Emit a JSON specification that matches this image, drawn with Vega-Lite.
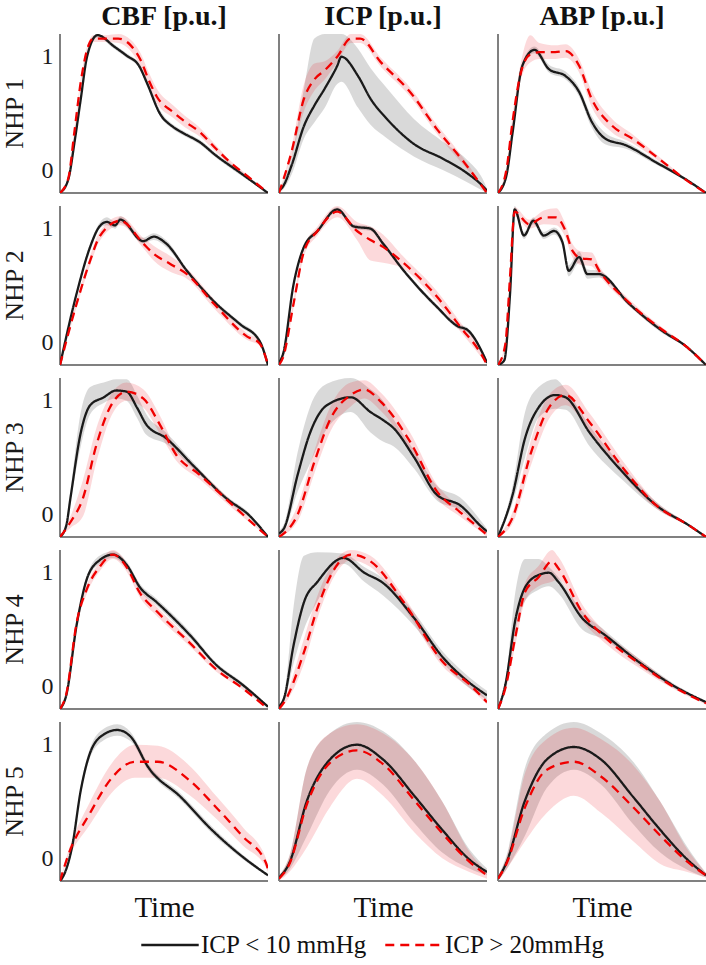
{
"$schema": "https://vega.github.io/schema/vega-lite/v6.json",
"background": "white",
"padding": {"left": 2, "top": 3, "right": 0, "bottom": 0},
"data": {"values": [
{"r":1,"c":"CBF","g":"a","t":0,"m":-0.2,"lo":-0.2,"hi":-0.2},
{"r":1,"c":"CBF","g":"a","t":0.04,"m":-0.08,"lo":-0.1,"hi":-0.06},
{"r":1,"c":"CBF","g":"a","t":0.07,"m":0.25,"lo":0.22,"hi":0.28},
{"r":1,"c":"CBF","g":"a","t":0.1,"m":0.63,"lo":0.6,"hi":0.66},
{"r":1,"c":"CBF","g":"a","t":0.13,"m":1.0,"lo":0.98,"hi":1.02},
{"r":1,"c":"CBF","g":"a","t":0.18,"m":1.19,"lo":1.17,"hi":1.2},
{"r":1,"c":"CBF","g":"a","t":0.26,"m":1.09,"lo":1.07,"hi":1.11},
{"r":1,"c":"CBF","g":"a","t":0.32,"m":1.01,"lo":0.99,"hi":1.03},
{"r":1,"c":"CBF","g":"a","t":0.38,"m":0.92,"lo":0.9,"hi":0.94},
{"r":1,"c":"CBF","g":"a","t":0.42,"m":0.76,"lo":0.74,"hi":0.79},
{"r":1,"c":"CBF","g":"a","t":0.48,"m":0.5,"lo":0.48,"hi":0.53},
{"r":1,"c":"CBF","g":"a","t":0.545,"m":0.38,"lo":0.36,"hi":0.4},
{"r":1,"c":"CBF","g":"a","t":0.6,"m":0.32,"lo":0.3,"hi":0.34},
{"r":1,"c":"CBF","g":"a","t":0.67,"m":0.25,"lo":0.23,"hi":0.27},
{"r":1,"c":"CBF","g":"a","t":0.75,"m":0.13,"lo":0.11,"hi":0.15},
{"r":1,"c":"CBF","g":"a","t":0.865,"m":-0.02,"lo":-0.04,"hi":0},
{"r":1,"c":"CBF","g":"a","t":1,"m":-0.2,"lo":-0.2,"hi":-0.2},
{"r":1,"c":"CBF","g":"b","t":0,"m":-0.2,"lo":-0.2,"hi":-0.2},
{"r":1,"c":"CBF","g":"b","t":0.04,"m":-0.07,"lo":-0.09,"hi":-0.05},
{"r":1,"c":"CBF","g":"b","t":0.07,"m":0.35,"lo":0.32,"hi":0.38},
{"r":1,"c":"CBF","g":"b","t":0.1,"m":0.78,"lo":0.75,"hi":0.81},
{"r":1,"c":"CBF","g":"b","t":0.13,"m":1.06,"lo":1.03,"hi":1.09},
{"r":1,"c":"CBF","g":"b","t":0.16,"m":1.16,"lo":1.13,"hi":1.19},
{"r":1,"c":"CBF","g":"b","t":0.22,"m":1.16,"lo":1.13,"hi":1.19},
{"r":1,"c":"CBF","g":"b","t":0.28,"m":1.16,"lo":1.12,"hi":1.2},
{"r":1,"c":"CBF","g":"b","t":0.34,"m":1.1,"lo":1.05,"hi":1.15},
{"r":1,"c":"CBF","g":"b","t":0.385,"m":0.98,"lo":0.92,"hi":1.04},
{"r":1,"c":"CBF","g":"b","t":0.43,"m":0.78,"lo":0.72,"hi":0.85},
{"r":1,"c":"CBF","g":"b","t":0.465,"m":0.65,"lo":0.59,"hi":0.72},
{"r":1,"c":"CBF","g":"b","t":0.545,"m":0.51,"lo":0.46,"hi":0.57},
{"r":1,"c":"CBF","g":"b","t":0.6,"m":0.43,"lo":0.38,"hi":0.48},
{"r":1,"c":"CBF","g":"b","t":0.67,"m":0.34,"lo":0.3,"hi":0.38},
{"r":1,"c":"CBF","g":"b","t":0.75,"m":0.19,"lo":0.16,"hi":0.22},
{"r":1,"c":"CBF","g":"b","t":0.8,"m":0.1,"lo":0.08,"hi":0.12},
{"r":1,"c":"CBF","g":"b","t":0.9,"m":-0.05,"lo":-0.06,"hi":-0.04},
{"r":1,"c":"CBF","g":"b","t":1,"m":-0.2,"lo":-0.2,"hi":-0.2},
{"r":1,"c":"ICP","g":"a","t":0,"m":-0.18,"lo":-0.2,"hi":-0.16},
{"r":1,"c":"ICP","g":"a","t":0.02,"m":-0.14,"lo":-0.17,"hi":-0.1},
{"r":1,"c":"ICP","g":"a","t":0.06,"m":0.04,"lo":-0.04,"hi":0.12},
{"r":1,"c":"ICP","g":"a","t":0.12,"m":0.39,"lo":0.28,"hi":0.72},
{"r":1,"c":"ICP","g":"a","t":0.17,"m":0.57,"lo":0.42,"hi":1.16},
{"r":1,"c":"ICP","g":"a","t":0.22,"m":0.72,"lo":0.55,"hi":1.2},
{"r":1,"c":"ICP","g":"a","t":0.28,"m":0.92,"lo":0.76,"hi":1.2},
{"r":1,"c":"ICP","g":"a","t":0.3,"m":1.0,"lo":0.78,"hi":1.2},
{"r":1,"c":"ICP","g":"a","t":0.38,"m":0.83,"lo":0.55,"hi":1.07},
{"r":1,"c":"ICP","g":"a","t":0.44,"m":0.63,"lo":0.4,"hi":0.9},
{"r":1,"c":"ICP","g":"a","t":0.52,"m":0.45,"lo":0.28,"hi":0.72},
{"r":1,"c":"ICP","g":"a","t":0.65,"m":0.23,"lo":0.12,"hi":0.45},
{"r":1,"c":"ICP","g":"a","t":0.79,"m":0.1,"lo":0.0,"hi":0.25},
{"r":1,"c":"ICP","g":"a","t":0.9,"m":-0.02,"lo":-0.1,"hi":0.1},
{"r":1,"c":"ICP","g":"a","t":0.98,"m":-0.14,"lo":-0.18,"hi":-0.08},
{"r":1,"c":"ICP","g":"a","t":1,"m":-0.18,"lo":-0.2,"hi":-0.16},
{"r":1,"c":"ICP","g":"b","t":0,"m":-0.2,"lo":-0.2,"hi":-0.2},
{"r":1,"c":"ICP","g":"b","t":0.06,"m":0.16,"lo":0.12,"hi":0.2},
{"r":1,"c":"ICP","g":"b","t":0.12,"m":0.63,"lo":0.52,"hi":0.76},
{"r":1,"c":"ICP","g":"b","t":0.17,"m":0.8,"lo":0.7,"hi":0.94},
{"r":1,"c":"ICP","g":"b","t":0.22,"m":0.88,"lo":0.8,"hi":0.96},
{"r":1,"c":"ICP","g":"b","t":0.28,"m":1.0,"lo":0.95,"hi":1.05},
{"r":1,"c":"ICP","g":"b","t":0.345,"m":1.16,"lo":1.12,"hi":1.2},
{"r":1,"c":"ICP","g":"b","t":0.39,"m":1.16,"lo":1.12,"hi":1.2},
{"r":1,"c":"ICP","g":"b","t":0.49,"m":0.95,"lo":0.91,"hi":0.99},
{"r":1,"c":"ICP","g":"b","t":0.63,"m":0.69,"lo":0.65,"hi":0.73},
{"r":1,"c":"ICP","g":"b","t":0.76,"m":0.36,"lo":0.32,"hi":0.4},
{"r":1,"c":"ICP","g":"b","t":0.89,"m":0.07,"lo":0.04,"hi":0.1},
{"r":1,"c":"ICP","g":"b","t":1,"m":-0.2,"lo":-0.2,"hi":-0.2},
{"r":1,"c":"ABP","g":"a","t":0,"m":-0.2,"lo":-0.2,"hi":-0.2},
{"r":1,"c":"ABP","g":"a","t":0.04,"m":-0.05,"lo":-0.07,"hi":-0.03},
{"r":1,"c":"ABP","g":"a","t":0.07,"m":0.33,"lo":0.3,"hi":0.36},
{"r":1,"c":"ABP","g":"a","t":0.117,"m":0.92,"lo":0.89,"hi":0.95},
{"r":1,"c":"ABP","g":"a","t":0.175,"m":1.06,"lo":1.03,"hi":1.09},
{"r":1,"c":"ABP","g":"a","t":0.245,"m":0.89,"lo":0.86,"hi":0.93},
{"r":1,"c":"ABP","g":"a","t":0.325,"m":0.83,"lo":0.8,"hi":0.87},
{"r":1,"c":"ABP","g":"a","t":0.39,"m":0.69,"lo":0.65,"hi":0.73},
{"r":1,"c":"ABP","g":"a","t":0.45,"m":0.43,"lo":0.38,"hi":0.48},
{"r":1,"c":"ABP","g":"a","t":0.515,"m":0.28,"lo":0.23,"hi":0.33},
{"r":1,"c":"ABP","g":"a","t":0.615,"m":0.22,"lo":0.19,"hi":0.25},
{"r":1,"c":"ABP","g":"a","t":0.76,"m":0.07,"lo":0.05,"hi":0.09},
{"r":1,"c":"ABP","g":"a","t":0.92,"m":-0.1,"lo":-0.11,"hi":-0.09},
{"r":1,"c":"ABP","g":"a","t":1,"m":-0.2,"lo":-0.2,"hi":-0.2},
{"r":1,"c":"ABP","g":"b","t":0,"m":-0.2,"lo":-0.2,"hi":-0.2},
{"r":1,"c":"ABP","g":"b","t":0.04,"m":0.0,"lo":-0.03,"hi":0.03},
{"r":1,"c":"ABP","g":"b","t":0.07,"m":0.43,"lo":0.38,"hi":0.48},
{"r":1,"c":"ABP","g":"b","t":0.11,"m":0.86,"lo":0.8,"hi":0.95},
{"r":1,"c":"ABP","g":"b","t":0.155,"m":1.02,"lo":0.95,"hi":1.19},
{"r":1,"c":"ABP","g":"b","t":0.2,"m":1.04,"lo":0.98,"hi":1.12},
{"r":1,"c":"ABP","g":"b","t":0.275,"m":1.04,"lo":0.98,"hi":1.1},
{"r":1,"c":"ABP","g":"b","t":0.325,"m":1.05,"lo":0.99,"hi":1.11},
{"r":1,"c":"ABP","g":"b","t":0.39,"m":0.92,"lo":0.86,"hi":0.98},
{"r":1,"c":"ABP","g":"b","t":0.45,"m":0.63,"lo":0.56,"hi":0.7},
{"r":1,"c":"ABP","g":"b","t":0.55,"m":0.39,"lo":0.33,"hi":0.45},
{"r":1,"c":"ABP","g":"b","t":0.645,"m":0.28,"lo":0.24,"hi":0.32},
{"r":1,"c":"ABP","g":"b","t":0.775,"m":0.1,"lo":0.08,"hi":0.12},
{"r":1,"c":"ABP","g":"b","t":0.9,"m":-0.08,"lo":-0.09,"hi":-0.07},
{"r":1,"c":"ABP","g":"b","t":1,"m":-0.2,"lo":-0.2,"hi":-0.2},
{"r":2,"c":"CBF","g":"a","t":0,"m":-0.2,"lo":-0.2,"hi":-0.2},
{"r":2,"c":"CBF","g":"a","t":0.08,"m":0.43,"lo":0.41,"hi":0.45},
{"r":2,"c":"CBF","g":"a","t":0.145,"m":0.84,"lo":0.82,"hi":0.87},
{"r":2,"c":"CBF","g":"a","t":0.19,"m":1.02,"lo":1.0,"hi":1.05},
{"r":2,"c":"CBF","g":"a","t":0.225,"m":1.06,"lo":1.03,"hi":1.1},
{"r":2,"c":"CBF","g":"a","t":0.265,"m":1.03,"lo":1.0,"hi":1.06},
{"r":2,"c":"CBF","g":"a","t":0.29,"m":1.08,"lo":1.05,"hi":1.11},
{"r":2,"c":"CBF","g":"a","t":0.4,"m":0.89,"lo":0.87,"hi":0.92},
{"r":2,"c":"CBF","g":"a","t":0.45,"m":0.93,"lo":0.9,"hi":0.96},
{"r":2,"c":"CBF","g":"a","t":0.51,"m":0.87,"lo":0.84,"hi":0.9},
{"r":2,"c":"CBF","g":"a","t":0.61,"m":0.63,"lo":0.61,"hi":0.65},
{"r":2,"c":"CBF","g":"a","t":0.74,"m":0.36,"lo":0.34,"hi":0.38},
{"r":2,"c":"CBF","g":"a","t":0.865,"m":0.16,"lo":0.14,"hi":0.18},
{"r":2,"c":"CBF","g":"a","t":0.96,"m":0.01,"lo":-0.01,"hi":0.03},
{"r":2,"c":"CBF","g":"a","t":1,"m":-0.2,"lo":-0.2,"hi":-0.2},
{"r":2,"c":"CBF","g":"b","t":0,"m":-0.2,"lo":-0.2,"hi":-0.2},
{"r":2,"c":"CBF","g":"b","t":0.08,"m":0.34,"lo":0.31,"hi":0.37},
{"r":2,"c":"CBF","g":"b","t":0.145,"m":0.72,"lo":0.68,"hi":0.76},
{"r":2,"c":"CBF","g":"b","t":0.19,"m":0.93,"lo":0.89,"hi":0.97},
{"r":2,"c":"CBF","g":"b","t":0.29,"m":1.07,"lo":1.03,"hi":1.11},
{"r":2,"c":"CBF","g":"b","t":0.4,"m":0.87,"lo":0.83,"hi":0.92},
{"r":2,"c":"CBF","g":"b","t":0.45,"m":0.78,"lo":0.72,"hi":0.85},
{"r":2,"c":"CBF","g":"b","t":0.53,"m":0.69,"lo":0.62,"hi":0.76},
{"r":2,"c":"CBF","g":"b","t":0.61,"m":0.6,"lo":0.56,"hi":0.65},
{"r":2,"c":"CBF","g":"b","t":0.74,"m":0.34,"lo":0.3,"hi":0.38},
{"r":2,"c":"CBF","g":"b","t":0.9,"m":0.05,"lo":0.02,"hi":0.08},
{"r":2,"c":"CBF","g":"b","t":0.96,"m":-0.01,"lo":-0.03,"hi":0.01},
{"r":2,"c":"CBF","g":"b","t":1,"m":-0.2,"lo":-0.2,"hi":-0.2},
{"r":2,"c":"ICP","g":"a","t":0,"m":-0.18,"lo":-0.2,"hi":-0.16},
{"r":2,"c":"ICP","g":"a","t":0.02,"m":-0.1,"lo":-0.12,"hi":-0.08},
{"r":2,"c":"ICP","g":"a","t":0.07,"m":0.51,"lo":0.49,"hi":0.53},
{"r":2,"c":"ICP","g":"a","t":0.12,"m":0.84,"lo":0.82,"hi":0.86},
{"r":2,"c":"ICP","g":"a","t":0.185,"m":0.98,"lo":0.96,"hi":1.0},
{"r":2,"c":"ICP","g":"a","t":0.28,"m":1.17,"lo":1.15,"hi":1.19},
{"r":2,"c":"ICP","g":"a","t":0.36,"m":1.02,"lo":1.0,"hi":1.04},
{"r":2,"c":"ICP","g":"a","t":0.44,"m":1.0,"lo":0.98,"hi":1.02},
{"r":2,"c":"ICP","g":"a","t":0.5,"m":0.87,"lo":0.85,"hi":0.89},
{"r":2,"c":"ICP","g":"a","t":0.6,"m":0.63,"lo":0.61,"hi":0.65},
{"r":2,"c":"ICP","g":"a","t":0.76,"m":0.31,"lo":0.29,"hi":0.33},
{"r":2,"c":"ICP","g":"a","t":0.86,"m":0.14,"lo":0.12,"hi":0.16},
{"r":2,"c":"ICP","g":"a","t":0.905,"m":0.11,"lo":0.09,"hi":0.13},
{"r":2,"c":"ICP","g":"a","t":0.98,"m":-0.1,"lo":-0.12,"hi":-0.08},
{"r":2,"c":"ICP","g":"a","t":1,"m":-0.18,"lo":-0.2,"hi":-0.16},
{"r":2,"c":"ICP","g":"b","t":0,"m":-0.2,"lo":-0.2,"hi":-0.2},
{"r":2,"c":"ICP","g":"b","t":0.02,"m":-0.13,"lo":-0.15,"hi":-0.11},
{"r":2,"c":"ICP","g":"b","t":0.07,"m":0.34,"lo":0.3,"hi":0.38},
{"r":2,"c":"ICP","g":"b","t":0.12,"m":0.8,"lo":0.76,"hi":0.84},
{"r":2,"c":"ICP","g":"b","t":0.185,"m":0.98,"lo":0.94,"hi":1.02},
{"r":2,"c":"ICP","g":"b","t":0.28,"m":1.15,"lo":1.1,"hi":1.2},
{"r":2,"c":"ICP","g":"b","t":0.375,"m":0.98,"lo":0.9,"hi":1.06},
{"r":2,"c":"ICP","g":"b","t":0.44,"m":0.9,"lo":0.72,"hi":1.02},
{"r":2,"c":"ICP","g":"b","t":0.5,"m":0.84,"lo":0.7,"hi":0.95},
{"r":2,"c":"ICP","g":"b","t":0.585,"m":0.72,"lo":0.66,"hi":0.78},
{"r":2,"c":"ICP","g":"b","t":0.76,"m":0.4,"lo":0.35,"hi":0.45},
{"r":2,"c":"ICP","g":"b","t":0.87,"m":0.14,"lo":0.1,"hi":0.18},
{"r":2,"c":"ICP","g":"b","t":0.98,"m":-0.13,"lo":-0.15,"hi":-0.11},
{"r":2,"c":"ICP","g":"b","t":1,"m":-0.2,"lo":-0.2,"hi":-0.2},
{"r":2,"c":"ABP","g":"a","t":0,"m":-0.2,"lo":-0.2,"hi":-0.2},
{"r":2,"c":"ABP","g":"a","t":0.03,"m":-0.16,"lo":-0.17,"hi":-0.15},
{"r":2,"c":"ABP","g":"a","t":0.058,"m":0.43,"lo":0.4,"hi":0.46},
{"r":2,"c":"ABP","g":"a","t":0.08,"m":1.17,"lo":1.14,"hi":1.2},
{"r":2,"c":"ABP","g":"a","t":0.125,"m":0.94,"lo":0.91,"hi":0.97},
{"r":2,"c":"ABP","g":"a","t":0.17,"m":1.07,"lo":1.04,"hi":1.1},
{"r":2,"c":"ABP","g":"a","t":0.22,"m":0.94,"lo":0.91,"hi":0.97},
{"r":2,"c":"ABP","g":"a","t":0.27,"m":0.98,"lo":0.95,"hi":1.01},
{"r":2,"c":"ABP","g":"a","t":0.31,"m":0.88,"lo":0.84,"hi":0.92},
{"r":2,"c":"ABP","g":"a","t":0.34,"m":0.63,"lo":0.58,"hi":0.68},
{"r":2,"c":"ABP","g":"a","t":0.39,"m":0.75,"lo":0.7,"hi":0.8},
{"r":2,"c":"ABP","g":"a","t":0.43,"m":0.6,"lo":0.56,"hi":0.64},
{"r":2,"c":"ABP","g":"a","t":0.485,"m":0.6,"lo":0.57,"hi":0.63},
{"r":2,"c":"ABP","g":"a","t":0.63,"m":0.34,"lo":0.32,"hi":0.36},
{"r":2,"c":"ABP","g":"a","t":0.79,"m":0.1,"lo":0.08,"hi":0.12},
{"r":2,"c":"ABP","g":"a","t":0.9,"m":-0.03,"lo":-0.04,"hi":-0.02},
{"r":2,"c":"ABP","g":"a","t":1,"m":-0.2,"lo":-0.2,"hi":-0.2},
{"r":2,"c":"ABP","g":"b","t":0,"m":-0.2,"lo":-0.2,"hi":-0.2},
{"r":2,"c":"ABP","g":"b","t":0.035,"m":-0.02,"lo":-0.05,"hi":0.01},
{"r":2,"c":"ABP","g":"b","t":0.058,"m":0.58,"lo":0.54,"hi":0.62},
{"r":2,"c":"ABP","g":"b","t":0.08,"m":1.15,"lo":1.11,"hi":1.19},
{"r":2,"c":"ABP","g":"b","t":0.15,"m":1.04,"lo":1.0,"hi":1.08},
{"r":2,"c":"ABP","g":"b","t":0.22,"m":1.1,"lo":1.04,"hi":1.16},
{"r":2,"c":"ABP","g":"b","t":0.28,"m":1.1,"lo":1.03,"hi":1.18},
{"r":2,"c":"ABP","g":"b","t":0.32,"m":1.0,"lo":0.94,"hi":1.06},
{"r":2,"c":"ABP","g":"b","t":0.36,"m":0.8,"lo":0.74,"hi":0.86},
{"r":2,"c":"ABP","g":"b","t":0.4,"m":0.74,"lo":0.68,"hi":0.8},
{"r":2,"c":"ABP","g":"b","t":0.45,"m":0.73,"lo":0.67,"hi":0.79},
{"r":2,"c":"ABP","g":"b","t":0.49,"m":0.62,"lo":0.58,"hi":0.66},
{"r":2,"c":"ABP","g":"b","t":0.63,"m":0.35,"lo":0.32,"hi":0.38},
{"r":2,"c":"ABP","g":"b","t":0.79,"m":0.11,"lo":0.09,"hi":0.13},
{"r":2,"c":"ABP","g":"b","t":0.9,"m":-0.03,"lo":-0.04,"hi":-0.02},
{"r":2,"c":"ABP","g":"b","t":1,"m":-0.2,"lo":-0.2,"hi":-0.2},
{"r":3,"c":"CBF","g":"a","t":0,"m":-0.2,"lo":-0.2,"hi":-0.2},
{"r":3,"c":"CBF","g":"a","t":0.03,"m":-0.1,"lo":-0.12,"hi":-0.08},
{"r":3,"c":"CBF","g":"a","t":0.05,"m":0.14,"lo":0.1,"hi":0.2},
{"r":3,"c":"CBF","g":"a","t":0.1,"m":0.72,"lo":0.6,"hi":0.9},
{"r":3,"c":"CBF","g":"a","t":0.145,"m":0.96,"lo":0.88,"hi":1.12},
{"r":3,"c":"CBF","g":"a","t":0.21,"m":1.03,"lo":0.98,"hi":1.16},
{"r":3,"c":"CBF","g":"a","t":0.27,"m":1.09,"lo":1.02,"hi":1.19},
{"r":3,"c":"CBF","g":"a","t":0.32,"m":1.08,"lo":1.0,"hi":1.19},
{"r":3,"c":"CBF","g":"a","t":0.37,"m":0.94,"lo":0.85,"hi":1.05},
{"r":3,"c":"CBF","g":"a","t":0.415,"m":0.79,"lo":0.7,"hi":0.88},
{"r":3,"c":"CBF","g":"a","t":0.51,"m":0.67,"lo":0.62,"hi":0.72},
{"r":3,"c":"CBF","g":"a","t":0.64,"m":0.43,"lo":0.4,"hi":0.46},
{"r":3,"c":"CBF","g":"a","t":0.8,"m":0.14,"lo":0.12,"hi":0.16},
{"r":3,"c":"CBF","g":"a","t":0.91,"m":-0.01,"lo":-0.03,"hi":0.01},
{"r":3,"c":"CBF","g":"a","t":1,"m":-0.2,"lo":-0.2,"hi":-0.2},
{"r":3,"c":"CBF","g":"b","t":0,"m":-0.2,"lo":-0.2,"hi":-0.2},
{"r":3,"c":"CBF","g":"b","t":0.05,"m":-0.07,"lo":-0.12,"hi":-0.02},
{"r":3,"c":"CBF","g":"b","t":0.11,"m":0.14,"lo":-0.02,"hi":0.3},
{"r":3,"c":"CBF","g":"b","t":0.175,"m":0.61,"lo":0.46,"hi":0.76},
{"r":3,"c":"CBF","g":"b","t":0.24,"m":0.94,"lo":0.84,"hi":1.04},
{"r":3,"c":"CBF","g":"b","t":0.32,"m":1.08,"lo":1.0,"hi":1.16},
{"r":3,"c":"CBF","g":"b","t":0.4,"m":1.02,"lo":0.94,"hi":1.1},
{"r":3,"c":"CBF","g":"b","t":0.48,"m":0.79,"lo":0.71,"hi":0.87},
{"r":3,"c":"CBF","g":"b","t":0.56,"m":0.52,"lo":0.47,"hi":0.57},
{"r":3,"c":"CBF","g":"b","t":0.67,"m":0.35,"lo":0.31,"hi":0.39},
{"r":3,"c":"CBF","g":"b","t":0.83,"m":0.08,"lo":0.05,"hi":0.11},
{"r":3,"c":"CBF","g":"b","t":1,"m":-0.2,"lo":-0.2,"hi":-0.2},
{"r":3,"c":"ICP","g":"a","t":0,"m":-0.17,"lo":-0.2,"hi":-0.15},
{"r":3,"c":"ICP","g":"a","t":0.025,"m":-0.12,"lo":-0.15,"hi":-0.08},
{"r":3,"c":"ICP","g":"a","t":0.09,"m":0.35,"lo":0.2,"hi":0.55},
{"r":3,"c":"ICP","g":"a","t":0.15,"m":0.72,"lo":0.45,"hi":0.95},
{"r":3,"c":"ICP","g":"a","t":0.23,"m":0.96,"lo":0.75,"hi":1.15},
{"r":3,"c":"ICP","g":"a","t":0.345,"m":1.03,"lo":0.9,"hi":1.2},
{"r":3,"c":"ICP","g":"a","t":0.44,"m":0.9,"lo":0.72,"hi":1.1},
{"r":3,"c":"ICP","g":"a","t":0.5,"m":0.83,"lo":0.64,"hi":1.0},
{"r":3,"c":"ICP","g":"a","t":0.55,"m":0.76,"lo":0.6,"hi":0.84},
{"r":3,"c":"ICP","g":"a","t":0.65,"m":0.5,"lo":0.4,"hi":0.56},
{"r":3,"c":"ICP","g":"a","t":0.76,"m":0.17,"lo":0.12,"hi":0.25},
{"r":3,"c":"ICP","g":"a","t":0.87,"m":0.08,"lo":0.04,"hi":0.15},
{"r":3,"c":"ICP","g":"a","t":0.98,"m":-0.12,"lo":-0.14,"hi":-0.08},
{"r":3,"c":"ICP","g":"a","t":1,"m":-0.15,"lo":-0.17,"hi":-0.13},
{"r":3,"c":"ICP","g":"b","t":0,"m":-0.2,"lo":-0.2,"hi":-0.2},
{"r":3,"c":"ICP","g":"b","t":0.09,"m":0.0,"lo":-0.06,"hi":0.08},
{"r":3,"c":"ICP","g":"b","t":0.17,"m":0.46,"lo":0.36,"hi":0.56},
{"r":3,"c":"ICP","g":"b","t":0.25,"m":0.85,"lo":0.74,"hi":0.96},
{"r":3,"c":"ICP","g":"b","t":0.345,"m":1.05,"lo":0.95,"hi":1.16},
{"r":3,"c":"ICP","g":"b","t":0.41,"m":1.1,"lo":1.02,"hi":1.18},
{"r":3,"c":"ICP","g":"b","t":0.49,"m":0.99,"lo":0.91,"hi":1.07},
{"r":3,"c":"ICP","g":"b","t":0.63,"m":0.64,"lo":0.56,"hi":0.72},
{"r":3,"c":"ICP","g":"b","t":0.76,"m":0.2,"lo":0.14,"hi":0.26},
{"r":3,"c":"ICP","g":"b","t":0.87,"m":0.02,"lo":-0.02,"hi":0.06},
{"r":3,"c":"ICP","g":"b","t":0.98,"m":-0.15,"lo":-0.17,"hi":-0.13},
{"r":3,"c":"ICP","g":"b","t":1,"m":-0.18,"lo":-0.2,"hi":-0.16},
{"r":3,"c":"ABP","g":"a","t":0,"m":-0.2,"lo":-0.2,"hi":-0.2},
{"r":3,"c":"ABP","g":"a","t":0.07,"m":0.17,"lo":0.1,"hi":0.25},
{"r":3,"c":"ABP","g":"a","t":0.13,"m":0.67,"lo":0.5,"hi":0.9},
{"r":3,"c":"ABP","g":"a","t":0.195,"m":0.94,"lo":0.85,"hi":1.12},
{"r":3,"c":"ABP","g":"a","t":0.275,"m":1.05,"lo":0.93,"hi":1.19},
{"r":3,"c":"ABP","g":"a","t":0.325,"m":1.03,"lo":0.92,"hi":1.1},
{"r":3,"c":"ABP","g":"a","t":0.44,"m":0.72,"lo":0.6,"hi":0.78},
{"r":3,"c":"ABP","g":"a","t":0.6,"m":0.37,"lo":0.3,"hi":0.42},
{"r":3,"c":"ABP","g":"a","t":0.76,"m":0.08,"lo":0.05,"hi":0.11},
{"r":3,"c":"ABP","g":"a","t":0.92,"m":-0.1,"lo":-0.11,"hi":-0.09},
{"r":3,"c":"ABP","g":"a","t":1,"m":-0.2,"lo":-0.2,"hi":-0.2},
{"r":3,"c":"ABP","g":"b","t":0,"m":-0.2,"lo":-0.2,"hi":-0.2},
{"r":3,"c":"ABP","g":"b","t":0.07,"m":-0.03,"lo":-0.08,"hi":0.02},
{"r":3,"c":"ABP","g":"b","t":0.16,"m":0.55,"lo":0.44,"hi":0.66},
{"r":3,"c":"ABP","g":"b","t":0.245,"m":0.94,"lo":0.84,"hi":1.05},
{"r":3,"c":"ABP","g":"b","t":0.325,"m":1.05,"lo":0.96,"hi":1.14},
{"r":3,"c":"ABP","g":"b","t":0.44,"m":0.81,"lo":0.73,"hi":0.89},
{"r":3,"c":"ABP","g":"b","t":0.6,"m":0.41,"lo":0.35,"hi":0.47},
{"r":3,"c":"ABP","g":"b","t":0.76,"m":0.08,"lo":0.05,"hi":0.11},
{"r":3,"c":"ABP","g":"b","t":0.92,"m":-0.1,"lo":-0.11,"hi":-0.09},
{"r":3,"c":"ABP","g":"b","t":1,"m":-0.2,"lo":-0.2,"hi":-0.2},
{"r":4,"c":"CBF","g":"a","t":0,"m":-0.2,"lo":-0.2,"hi":-0.2},
{"r":4,"c":"CBF","g":"a","t":0.03,"m":-0.08,"lo":-0.1,"hi":-0.06},
{"r":4,"c":"CBF","g":"a","t":0.08,"m":0.54,"lo":0.51,"hi":0.57},
{"r":4,"c":"CBF","g":"a","t":0.13,"m":0.95,"lo":0.92,"hi":0.98},
{"r":4,"c":"CBF","g":"a","t":0.19,"m":1.11,"lo":1.08,"hi":1.15},
{"r":4,"c":"CBF","g":"a","t":0.255,"m":1.16,"lo":1.13,"hi":1.19},
{"r":4,"c":"CBF","g":"a","t":0.32,"m":1.07,"lo":1.04,"hi":1.1},
{"r":4,"c":"CBF","g":"a","t":0.385,"m":0.87,"lo":0.84,"hi":0.9},
{"r":4,"c":"CBF","g":"a","t":0.465,"m":0.74,"lo":0.71,"hi":0.77},
{"r":4,"c":"CBF","g":"a","t":0.625,"m":0.45,"lo":0.42,"hi":0.48},
{"r":4,"c":"CBF","g":"a","t":0.75,"m":0.19,"lo":0.17,"hi":0.21},
{"r":4,"c":"CBF","g":"a","t":0.88,"m":0.01,"lo":-0.01,"hi":0.03},
{"r":4,"c":"CBF","g":"a","t":1,"m":-0.18,"lo":-0.19,"hi":-0.17},
{"r":4,"c":"CBF","g":"b","t":0,"m":-0.2,"lo":-0.2,"hi":-0.2},
{"r":4,"c":"CBF","g":"b","t":0.03,"m":-0.07,"lo":-0.1,"hi":-0.04},
{"r":4,"c":"CBF","g":"b","t":0.08,"m":0.56,"lo":0.52,"hi":0.6},
{"r":4,"c":"CBF","g":"b","t":0.13,"m":0.86,"lo":0.82,"hi":0.9},
{"r":4,"c":"CBF","g":"b","t":0.19,"m":1.05,"lo":1.01,"hi":1.09},
{"r":4,"c":"CBF","g":"b","t":0.255,"m":1.16,"lo":1.12,"hi":1.2},
{"r":4,"c":"CBF","g":"b","t":0.32,"m":1.05,"lo":1.01,"hi":1.09},
{"r":4,"c":"CBF","g":"b","t":0.385,"m":0.82,"lo":0.78,"hi":0.86},
{"r":4,"c":"CBF","g":"b","t":0.465,"m":0.66,"lo":0.62,"hi":0.7},
{"r":4,"c":"CBF","g":"b","t":0.625,"m":0.38,"lo":0.35,"hi":0.41},
{"r":4,"c":"CBF","g":"b","t":0.75,"m":0.15,"lo":0.13,"hi":0.17},
{"r":4,"c":"CBF","g":"b","t":0.88,"m":-0.02,"lo":-0.03,"hi":-0.01},
{"r":4,"c":"CBF","g":"b","t":1,"m":-0.2,"lo":-0.2,"hi":-0.2},
{"r":4,"c":"ICP","g":"a","t":0,"m":-0.18,"lo":-0.2,"hi":-0.16},
{"r":4,"c":"ICP","g":"a","t":0.025,"m":-0.1,"lo":-0.13,"hi":-0.07},
{"r":4,"c":"ICP","g":"a","t":0.07,"m":0.36,"lo":0.2,"hi":0.7},
{"r":4,"c":"ICP","g":"a","t":0.12,"m":0.74,"lo":0.5,"hi":1.15},
{"r":4,"c":"ICP","g":"a","t":0.185,"m":0.92,"lo":0.75,"hi":1.18},
{"r":4,"c":"ICP","g":"a","t":0.31,"m":1.13,"lo":1.08,"hi":1.17},
{"r":4,"c":"ICP","g":"a","t":0.41,"m":1.0,"lo":0.92,"hi":1.05},
{"r":4,"c":"ICP","g":"a","t":0.5,"m":0.91,"lo":0.8,"hi":0.95},
{"r":4,"c":"ICP","g":"a","t":0.65,"m":0.6,"lo":0.53,"hi":0.65},
{"r":4,"c":"ICP","g":"a","t":0.79,"m":0.25,"lo":0.2,"hi":0.3},
{"r":4,"c":"ICP","g":"a","t":0.89,"m":0.07,"lo":0.02,"hi":0.12},
{"r":4,"c":"ICP","g":"a","t":1,"m":-0.08,"lo":-0.12,"hi":-0.04},
{"r":4,"c":"ICP","g":"b","t":0,"m":-0.2,"lo":-0.2,"hi":-0.2},
{"r":4,"c":"ICP","g":"b","t":0.025,"m":-0.14,"lo":-0.16,"hi":-0.12},
{"r":4,"c":"ICP","g":"b","t":0.12,"m":0.3,"lo":0.2,"hi":0.42},
{"r":4,"c":"ICP","g":"b","t":0.185,"m":0.69,"lo":0.6,"hi":0.8},
{"r":4,"c":"ICP","g":"b","t":0.28,"m":1.07,"lo":1.01,"hi":1.13},
{"r":4,"c":"ICP","g":"b","t":0.345,"m":1.16,"lo":1.11,"hi":1.2},
{"r":4,"c":"ICP","g":"b","t":0.44,"m":1.1,"lo":1.05,"hi":1.15},
{"r":4,"c":"ICP","g":"b","t":0.6,"m":0.74,"lo":0.69,"hi":0.79},
{"r":4,"c":"ICP","g":"b","t":0.79,"m":0.21,"lo":0.17,"hi":0.25},
{"r":4,"c":"ICP","g":"b","t":0.92,"m":0.01,"lo":-0.02,"hi":0.04},
{"r":4,"c":"ICP","g":"b","t":1,"m":-0.14,"lo":-0.16,"hi":-0.12},
{"r":4,"c":"ABP","g":"a","t":0,"m":-0.2,"lo":-0.2,"hi":-0.2},
{"r":4,"c":"ABP","g":"a","t":0.035,"m":0.01,"lo":-0.02,"hi":0.04},
{"r":4,"c":"ABP","g":"a","t":0.085,"m":0.6,"lo":0.5,"hi":0.85},
{"r":4,"c":"ABP","g":"a","t":0.13,"m":0.87,"lo":0.75,"hi":1.12},
{"r":4,"c":"ABP","g":"a","t":0.195,"m":0.98,"lo":0.85,"hi":1.12},
{"r":4,"c":"ABP","g":"a","t":0.245,"m":1.0,"lo":0.88,"hi":1.05},
{"r":4,"c":"ABP","g":"a","t":0.29,"m":0.92,"lo":0.82,"hi":0.96},
{"r":4,"c":"ABP","g":"a","t":0.405,"m":0.6,"lo":0.5,"hi":0.66},
{"r":4,"c":"ABP","g":"a","t":0.515,"m":0.45,"lo":0.41,"hi":0.49},
{"r":4,"c":"ABP","g":"a","t":0.68,"m":0.21,"lo":0.18,"hi":0.24},
{"r":4,"c":"ABP","g":"a","t":0.84,"m":0.01,"lo":-0.01,"hi":0.03},
{"r":4,"c":"ABP","g":"a","t":1,"m":-0.14,"lo":-0.15,"hi":-0.13},
{"r":4,"c":"ABP","g":"b","t":0,"m":-0.2,"lo":-0.2,"hi":-0.2},
{"r":4,"c":"ABP","g":"b","t":0.035,"m":-0.02,"lo":-0.05,"hi":0.01},
{"r":4,"c":"ABP","g":"b","t":0.085,"m":0.45,"lo":0.38,"hi":0.52},
{"r":4,"c":"ABP","g":"b","t":0.13,"m":0.83,"lo":0.75,"hi":0.91},
{"r":4,"c":"ABP","g":"b","t":0.195,"m":0.96,"lo":0.88,"hi":1.06},
{"r":4,"c":"ABP","g":"b","t":0.26,"m":1.1,"lo":0.92,"hi":1.2},
{"r":4,"c":"ABP","g":"b","t":0.29,"m":1.04,"lo":0.94,"hi":1.14},
{"r":4,"c":"ABP","g":"b","t":0.405,"m":0.65,"lo":0.58,"hi":0.72},
{"r":4,"c":"ABP","g":"b","t":0.515,"m":0.43,"lo":0.38,"hi":0.48},
{"r":4,"c":"ABP","g":"b","t":0.68,"m":0.2,"lo":0.16,"hi":0.24},
{"r":4,"c":"ABP","g":"b","t":0.84,"m":0.0,"lo":-0.02,"hi":0.02},
{"r":4,"c":"ABP","g":"b","t":1,"m":-0.15,"lo":-0.16,"hi":-0.14},
{"r":5,"c":"CBF","g":"a","t":0,"m":-0.2,"lo":-0.2,"hi":-0.2},
{"r":5,"c":"CBF","g":"a","t":0.015,"m":-0.16,"lo":-0.18,"hi":-0.14},
{"r":5,"c":"CBF","g":"a","t":0.058,"m":0.1,"lo":0.07,"hi":0.13},
{"r":5,"c":"CBF","g":"a","t":0.1,"m":0.6,"lo":0.56,"hi":0.64},
{"r":5,"c":"CBF","g":"a","t":0.145,"m":0.93,"lo":0.89,"hi":0.97},
{"r":5,"c":"CBF","g":"a","t":0.21,"m":1.09,"lo":1.04,"hi":1.14},
{"r":5,"c":"CBF","g":"a","t":0.275,"m":1.13,"lo":1.08,"hi":1.18},
{"r":5,"c":"CBF","g":"a","t":0.34,"m":1.07,"lo":1.03,"hi":1.11},
{"r":5,"c":"CBF","g":"a","t":0.425,"m":0.8,"lo":0.77,"hi":0.83},
{"r":5,"c":"CBF","g":"a","t":0.58,"m":0.54,"lo":0.51,"hi":0.57},
{"r":5,"c":"CBF","g":"a","t":0.73,"m":0.25,"lo":0.22,"hi":0.28},
{"r":5,"c":"CBF","g":"a","t":0.88,"m":0.01,"lo":-0.01,"hi":0.03},
{"r":5,"c":"CBF","g":"a","t":1,"m":-0.15,"lo":-0.16,"hi":-0.14},
{"r":5,"c":"CBF","g":"b","t":0,"m":-0.2,"lo":-0.2,"hi":-0.2},
{"r":5,"c":"CBF","g":"b","t":0.036,"m":0.01,"lo":-0.02,"hi":0.04},
{"r":5,"c":"CBF","g":"b","t":0.145,"m":0.4,"lo":0.3,"hi":0.5},
{"r":5,"c":"CBF","g":"b","t":0.25,"m":0.71,"lo":0.58,"hi":0.84},
{"r":5,"c":"CBF","g":"b","t":0.36,"m":0.85,"lo":0.71,"hi":1.0},
{"r":5,"c":"CBF","g":"b","t":0.47,"m":0.85,"lo":0.71,"hi":0.99},
{"r":5,"c":"CBF","g":"b","t":0.62,"m":0.69,"lo":0.56,"hi":0.82},
{"r":5,"c":"CBF","g":"b","t":0.75,"m":0.45,"lo":0.35,"hi":0.55},
{"r":5,"c":"CBF","g":"b","t":0.88,"m":0.19,"lo":0.11,"hi":0.27},
{"r":5,"c":"CBF","g":"b","t":0.99,"m":-0.04,"lo":-0.08,"hi":0.0},
{"r":5,"c":"CBF","g":"b","t":1,"m":-0.1,"lo":-0.12,"hi":-0.08},
{"r":5,"c":"ICP","g":"a","t":0,"m":-0.17,"lo":-0.19,"hi":-0.15},
{"r":5,"c":"ICP","g":"a","t":0.05,"m":-0.04,"lo":-0.1,"hi":0.02},
{"r":5,"c":"ICP","g":"a","t":0.135,"m":0.51,"lo":0.2,"hi":0.8},
{"r":5,"c":"ICP","g":"a","t":0.245,"m":0.87,"lo":0.6,"hi":1.1},
{"r":5,"c":"ICP","g":"a","t":0.375,"m":1.0,"lo":0.78,"hi":1.2},
{"r":5,"c":"ICP","g":"a","t":0.5,"m":0.87,"lo":0.65,"hi":1.12},
{"r":5,"c":"ICP","g":"a","t":0.655,"m":0.54,"lo":0.3,"hi":0.85},
{"r":5,"c":"ICP","g":"a","t":0.785,"m":0.25,"lo":0.05,"hi":0.5},
{"r":5,"c":"ICP","g":"a","t":0.915,"m":-0.01,"lo":-0.09,"hi":0.08},
{"r":5,"c":"ICP","g":"a","t":1,"m":-0.12,"lo":-0.15,"hi":-0.09},
{"r":5,"c":"ICP","g":"b","t":0,"m":-0.18,"lo":-0.2,"hi":-0.16},
{"r":5,"c":"ICP","g":"b","t":0.05,"m":-0.05,"lo":-0.12,"hi":0.02},
{"r":5,"c":"ICP","g":"b","t":0.135,"m":0.48,"lo":0.1,"hi":0.8},
{"r":5,"c":"ICP","g":"b","t":0.245,"m":0.84,"lo":0.45,"hi":1.1},
{"r":5,"c":"ICP","g":"b","t":0.375,"m":0.95,"lo":0.7,"hi":1.18},
{"r":5,"c":"ICP","g":"b","t":0.5,"m":0.83,"lo":0.55,"hi":1.1},
{"r":5,"c":"ICP","g":"b","t":0.655,"m":0.5,"lo":0.22,"hi":0.85},
{"r":5,"c":"ICP","g":"b","t":0.785,"m":0.22,"lo":0.0,"hi":0.5},
{"r":5,"c":"ICP","g":"b","t":0.915,"m":-0.03,"lo":-0.12,"hi":0.06},
{"r":5,"c":"ICP","g":"b","t":1,"m":-0.15,"lo":-0.18,"hi":-0.12},
{"r":5,"c":"ABP","g":"a","t":0,"m":-0.18,"lo":-0.2,"hi":-0.16},
{"r":5,"c":"ABP","g":"a","t":0.04,"m":-0.04,"lo":-0.1,"hi":0.02},
{"r":5,"c":"ABP","g":"a","t":0.13,"m":0.51,"lo":0.2,"hi":0.8},
{"r":5,"c":"ABP","g":"a","t":0.235,"m":0.87,"lo":0.62,"hi":1.1},
{"r":5,"c":"ABP","g":"a","t":0.365,"m":0.98,"lo":0.78,"hi":1.2},
{"r":5,"c":"ABP","g":"a","t":0.495,"m":0.87,"lo":0.65,"hi":1.1},
{"r":5,"c":"ABP","g":"a","t":0.65,"m":0.54,"lo":0.3,"hi":0.85},
{"r":5,"c":"ABP","g":"a","t":0.78,"m":0.25,"lo":0.05,"hi":0.5},
{"r":5,"c":"ABP","g":"a","t":0.91,"m":-0.01,"lo":-0.1,"hi":0.1},
{"r":5,"c":"ABP","g":"a","t":1,"m":-0.15,"lo":-0.17,"hi":-0.13},
{"r":5,"c":"ABP","g":"b","t":0,"m":-0.18,"lo":-0.2,"hi":-0.16},
{"r":5,"c":"ABP","g":"b","t":0.04,"m":-0.05,"lo":-0.1,"hi":0.0},
{"r":5,"c":"ABP","g":"b","t":0.13,"m":0.45,"lo":0.15,"hi":0.75},
{"r":5,"c":"ABP","g":"b","t":0.235,"m":0.78,"lo":0.4,"hi":1.05},
{"r":5,"c":"ABP","g":"b","t":0.365,"m":0.85,"lo":0.55,"hi":1.15},
{"r":5,"c":"ABP","g":"b","t":0.495,"m":0.72,"lo":0.4,"hi":1.05},
{"r":5,"c":"ABP","g":"b","t":0.65,"m":0.45,"lo":0.15,"hi":0.82},
{"r":5,"c":"ABP","g":"b","t":0.78,"m":0.2,"lo":-0.05,"hi":0.5},
{"r":5,"c":"ABP","g":"b","t":0.91,"m":-0.03,"lo":-0.12,"hi":0.08},
{"r":5,"c":"ABP","g":"b","t":1,"m":-0.15,"lo":-0.17,"hi":-0.13}
]},
"facet": {
  "row": {"field": "r", "type": "ordinal", "title": null,
    "header": {"labelExpr": "'NHP ' + datum.value", "labelAngle": -90, "labelOrient": "left", "labelFont": "Liberation Serif", "labelFontSize": 26, "labelColor": "#1a1a1a", "labelPadding": 0}},
  "column": {"field": "c", "type": "nominal", "sort": ["CBF", "ICP", "ABP"], "title": null,
    "header": {"labelExpr": "datum.value + ' [p.u.]'", "labelFont": "Liberation Serif", "labelFontWeight": "bold", "labelFontSize": 28, "labelColor": "#111111", "labelPadding": 2}}
},
"spacing": {"row": 11, "column": 9},
"spec": {
  "width": 208,
  "height": 159,
  "layer": [
    {"mark": {"type": "area", "interpolate": "monotone", "fillOpacity": 0.15, "clip": true},
     "encoding": {
       "x": {"field": "t", "type": "quantitative", "scale": {"domain": [0, 1]}, "title": "Time",
         "axis": {"labels": false, "ticks": false, "domain": false, "grid": false, "titleFontSize": 29, "titleFont": "Liberation Serif", "titleFontWeight": "normal", "titleColor": "#111111", "titlePadding": 11}},
       "y": {"field": "lo", "type": "quantitative", "scale": {"domain": [-0.2, 1.2]}, "title": null,
         "axis": {"values": [0, 1], "format": "d", "labelFontSize": 24, "labelFont": "Liberation Serif", "labelColor": "#1a1a1a", "domain": false, "ticks": false, "grid": false, "labelPadding": 6}},
       "y2": {"field": "hi"},
       "fill": {"field": "g", "type": "nominal", "scale": {"domain": ["b", "a"], "range": ["#e8000b", "#000000"]}, "legend": null}
     }},
    {"mark": {"type": "rule", "color": "#808080", "strokeWidth": 1.5},
     "encoding": {"x": {"datum": 0}}},
    {"mark": {"type": "rule", "color": "#808080", "strokeWidth": 1.5},
     "encoding": {"y": {"datum": -0.2}}},
    {"mark": {"type": "line", "interpolate": "monotone", "strokeWidth": 2.3, "clip": true},
     "encoding": {
       "x": {"field": "t", "type": "quantitative"},
       "y": {"field": "m", "type": "quantitative"},
       "color": {"field": "g", "type": "nominal", "scale": {"domain": ["a", "b"], "range": ["#1a1a1a", "#f00000"]},
         "legend": {"orient": "none", "legendX": 80, "legendY": 881, "direction": "horizontal", "title": null,
           "labelExpr": "datum.value == 'a' ? 'ICP < 10 mmHg' : 'ICP > 20mmHg'",
           "symbolType": "stroke", "symbolSize": 3300, "symbolStrokeWidth": 2.5, "labelFontSize": 25, "labelFont": "Liberation Serif", "labelColor": "#111111", "labelLimit": 400, "columnPadding": 12, "labelOffset": 1}},
       "strokeDash": {"field": "g", "type": "nominal", "scale": {"domain": ["a", "b"], "range": [[1, 0], [9, 6]]},
         "legend": {"orient": "none", "legendX": 80, "legendY": 881, "direction": "horizontal", "title": null,
           "labelExpr": "datum.value == 'a' ? 'ICP < 10 mmHg' : 'ICP > 20mmHg'",
           "symbolType": "stroke", "symbolSize": 3300, "symbolStrokeWidth": 2.5, "labelFontSize": 25, "labelFont": "Liberation Serif", "labelColor": "#111111", "labelLimit": 400, "columnPadding": 12, "labelOffset": 1}}
     }}
  ]
},
"config": {
  "view": {"stroke": null},
  "font": "Liberation Serif"
}
}
